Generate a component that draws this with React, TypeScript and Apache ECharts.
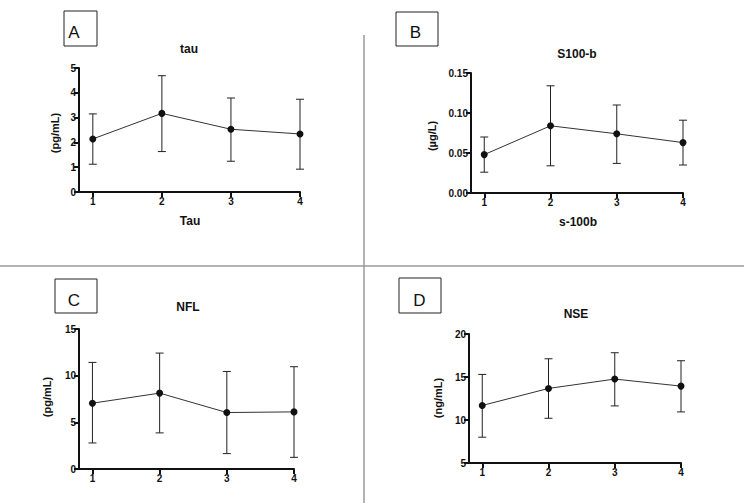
import React, { useEffect, useRef } from "react";
import * as echarts from "echarts";

// ---- data ----
const groups = [1, 2, 3, 4];

const tauMean = [2.14, 3.17, 2.53, 2.34];
const tauHigh = [3.15, 4.69, 3.79, 3.74];
const tauLow = [1.12, 1.63, 1.24, 0.92];

const s100Mean = [0.048, 0.084, 0.074, 0.063];
const s100High = [0.070, 0.134, 0.110, 0.091];
const s100Low = [0.026, 0.034, 0.037, 0.035];

const nflMean = [7.05, 8.13, 6.05, 6.12];
const nflHigh = [11.42, 12.42, 10.45, 10.96];
const nflLow = [2.79, 3.87, 1.65, 1.25];

const nseMean = [11.69, 13.67, 14.76, 13.94];
const nseHigh = [15.3, 17.12, 17.82, 16.89];
const nseLow = [8.0, 10.2, 11.64, 10.94];

const panelTitles = ["tau", "S100-b", "NFL", "NSE"];
const panelLetters = ["A", "B", "C", "D"];
const yNames = ["(pg/mL)", "(µg/L)", "(pg/mL)", "(ng/mL)"];
const xNames = ["Tau", "s-100b", "", ""];

const FONT = "Liberation Sans, Arial, Helvetica, sans-serif";

export default function App() {
  const ref = useRef<HTMLDivElement>(null);
  useEffect(() => {
    document.body.style.margin = "0";
    const chart = echarts.init(ref.current!, null, { renderer: "svg" });

    const panels = [
      { mean: tauMean, high: tauHigh, low: tauLow, ymin: 0, ymax: 5, yint: 1, dec: 0 },
      { mean: s100Mean, high: s100High, low: s100Low, ymin: 0, ymax: 0.15, yint: 0.05, dec: 2 },
      { mean: nflMean, high: nflHigh, low: nflLow, ymin: 0, ymax: 15, yint: 5, dec: 0 },
      { mean: nseMean, high: nseHigh, low: nseLow, ymin: 5, ymax: 20, yint: 5, dec: 0 },
    ];

    const grids = [
      { left: 79, top: 68, width: 221, height: 124 },
      { left: 471, top: 73, width: 212, height: 120 },
      { left: 79, top: 329, width: 215, height: 140 },
      { left: 469, top: 334, width: 212, height: 129 },
    ];

    const axisLineStyle = { color: "#111", width: 2 };
    const tickLabel = { color: "#111", fontSize: 10, fontWeight: "bold" as const, fontFamily: FONT };

    const xAxes = grids.map((_, i) => ({
      type: "value",
      gridIndex: i,
      min: 0.8,
      max: 4,
      splitLine: { show: false },
      axisLine: { show: true, onZero: false, lineStyle: axisLineStyle },
      axisTick: { show: true, length: 5, customValues: groups, lineStyle: axisLineStyle },
      axisLabel: { ...tickLabel, margin: 4, customValues: groups, formatter: (v: number) => String(v) },
    }));

    const yAxes = panels.map((p, i) => ({
      type: "value",
      gridIndex: i,
      min: p.ymin,
      max: p.ymax,
      interval: p.yint,
      splitLine: { show: false },
      axisLine: { show: true, onZero: false, lineStyle: axisLineStyle },
      axisTick: { show: true, length: 5, lineStyle: axisLineStyle },
      axisLabel: { ...tickLabel, margin: 3, formatter: (v: number) => v.toFixed(p.dec) },
    }));

    const series: any[] = [];
    panels.forEach((p, i) => {
      series.push({
        type: "custom",
        xAxisIndex: i,
        yAxisIndex: i,
        data: groups.map((g, k) => [g, p.low[k], p.high[k]]),
        encode: { x: 0, y: [1, 2] },
        renderItem: (params: any, api: any) => {
          const x = api.value(0);
          const lo = api.coord([x, api.value(1)]);
          const hi = api.coord([x, api.value(2)]);
          const w = 4;
          const style = { stroke: "#222", lineWidth: 1 };
          return {
            type: "group",
            children: [
              { type: "line", shape: { x1: lo[0], y1: lo[1], x2: hi[0], y2: hi[1] }, style },
              { type: "line", shape: { x1: hi[0] - w, y1: hi[1], x2: hi[0] + w, y2: hi[1] }, style },
              { type: "line", shape: { x1: lo[0] - w, y1: lo[1], x2: lo[0] + w, y2: lo[1] }, style },
            ],
          };
        },
        z: 2,
      });
      series.push({
        type: "line",
        xAxisIndex: i,
        yAxisIndex: i,
        data: groups.map((g, k) => [g, p.mean[k]]),
        symbol: "circle",
        symbolSize: 7,
        itemStyle: { color: "#111" },
        lineStyle: { color: "#333", width: 1 },
        z: 3,
      });
    });

    const boxes = [
      { x: 64, y: 11, w: 33, h: 35, lx: 74, ly: 32 },
      { x: 396, y: 12, w: 42, h: 34, lx: 415.5, ly: 32.5 },
      { x: 55, y: 279, w: 42, h: 34, lx: 74, ly: 300 },
      { x: 399, y: 278, w: 42, h: 35, lx: 419.5, ly: 300 },
    ];
    const titlePos = [
      [189, 49],
      [577, 54],
      [188, 307],
      [576, 314],
    ];
    const yNamePos = [
      [55, 133],
      [432, 136],
      [47, 397],
      [438, 398],
    ];
    const xNamePos = [
      [190, 221],
      [578, 222],
    ];

    const txt = (text: string, x: number, y: number, font: string, rotation = 0) => ({
      type: "text",
      x,
      y,
      rotation,
      style: {
        text,
        font,
        fill: "#111",
        align: "center",
        verticalAlign: "middle",
        textAlign: "center",
        textVerticalAlign: "middle",
      },
      z: 10,
    });

    const graphic: any[] = [
      { type: "line", shape: { x1: 0, y1: 266, x2: 744, y2: 266 }, style: { stroke: "#9a9a9a", lineWidth: 1.5 } },
      { type: "line", shape: { x1: 364, y1: 35, x2: 364, y2: 503 }, style: { stroke: "#9a9a9a", lineWidth: 1.5 } },
    ];
    boxes.forEach((b, i) => {
      graphic.push({
        type: "rect",
        shape: { x: b.x, y: b.y, width: b.w, height: b.h },
        style: { fill: "#fff", stroke: "#222", lineWidth: 1 },
      });
      graphic.push(txt(panelLetters[i], b.lx, b.ly, `17px ${FONT}`));
      graphic.push(txt(panelTitles[i], titlePos[i][0], titlePos[i][1], `bold 12px ${FONT}`));
      graphic.push(txt(yNames[i], yNamePos[i][0], yNamePos[i][1], `bold 11px ${FONT}`, Math.PI / 2));
      if (xNames[i]) graphic.push(txt(xNames[i], xNamePos[i][0], xNamePos[i][1], `bold 12px ${FONT}`));
    });

    chart.setOption({
      animation: false,
      backgroundColor: "#fff",
      grid: grids.map((g) => ({ ...g, containLabel: false, outerBoundsMode: "none" })),
      xAxis: xAxes,
      yAxis: yAxes,
      series,
      graphic,
    });
    return () => chart.dispose();
  }, []);
  return <div ref={ref} style={{ width: 744, height: 503 }} />;
}
